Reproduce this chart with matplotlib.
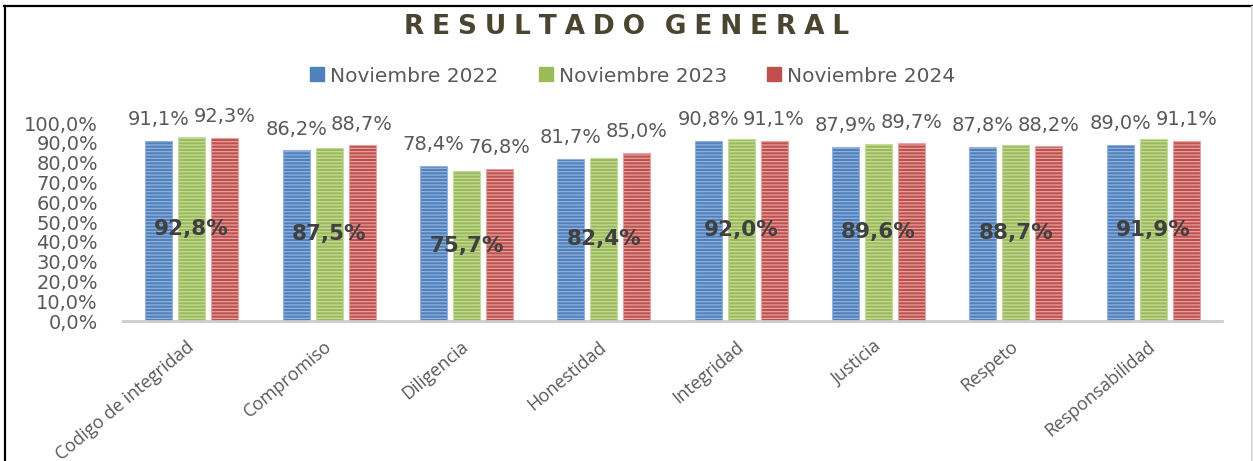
from matplotlib import pyplot as plt
from matplotlib.patches import Patch
from matplotlib.lines import Line2D
from matplotlib.ticker import FuncFormatter, MultipleLocator
import numpy as np

# Datos del grafico (porcentajes)
categorias = ["Codigo de integridad", "Compromiso", "Diligencia", "Honestidad",
              "Integridad", "Justicia", "Respeto", "Responsabilidad"]
series = ["Noviembre 2022", "Noviembre 2023", "Noviembre 2024"]
nov_2022 = [91.1, 86.2, 78.4, 81.7, 90.8, 87.9, 87.8, 89.0]
nov_2023 = [92.8, 87.5, 75.7, 82.4, 92.0, 89.6, 88.7, 91.9]
nov_2024 = [92.3, 88.7, 76.8, 85.0, 91.1, 89.7, 88.2, 91.1]

colores = ["#4f81bd", "#9bbb59", "#c0504d"]
rayas = ["#93b1da", "#c6da9e", "#e2a3a1"]
gris = "#595959"


def pct(v, pos=None):
    return (f"{v:.1f}%").replace(".", ",")


plt.rcParams["hatch.linewidth"] = 0.9

fig = plt.figure(figsize=(12.53, 4.61), dpi=100)
ax = fig.add_axes([123 / 1253, 140 / 461, 1099 / 1253, 198 / 461])

x = np.arange(len(categorias))
ancho = 0.197
paso = 0.24

valores = [nov_2022, nov_2023, nov_2024]
for i, vals in enumerate(valores):
    ax.bar(x + (i - 1) * paso, vals, ancho, color=colores[i], edgecolor=rayas[i],
           linewidth=0.8, hatch="-----", zorder=2)

# Etiquetas: 2022 y 2024 sobre la barra, 2023 en el centro en negrita
for i in (0, 2):
    for xi, v in zip(x, valores[i]):
        ax.annotate(pct(v), (xi + (i - 1) * paso, v), xytext=(0, 8.5),
                    textcoords="offset points", ha="center", va="bottom",
                    fontsize=14, color=gris, annotation_clip=False)
for xi, v in zip(x, nov_2023):
    ax.text(xi, v / 2, pct(v), ha="center", va="center", fontsize=15.5,
            fontweight="bold", color="#404040", zorder=3)

ax.set_xlim(-0.5, len(categorias) - 0.5)
ax.set_ylim(0, 100)
ax.yaxis.set_major_locator(MultipleLocator(10))
ax.yaxis.set_major_formatter(FuncFormatter(pct))
ax.tick_params(axis="y", length=0, pad=18, labelsize=14, labelcolor=gris)

ax.set_xticks(x)
ax.set_xticklabels(categorias, rotation=40, ha="right", va="center",
                   rotation_mode="anchor", fontsize=13, color=gris,
                   family="Open Sans")
ax.tick_params(axis="x", length=0, pad=17)

for s in ["top", "right", "left"]:
    ax.spines[s].set_visible(False)
ax.spines["bottom"].set_color("#cccccc")
ax.spines["bottom"].set_linewidth(2)

# Titulo con letras espaciadas
titulo = "\u2009 \u2009".join("\u2009\u200a".join(p) for p in "RESULTADO GENERAL".split())
fig.text(0.5, 1 - 34 / 461, titulo, ha="center", va="baseline", fontsize=19,
         fontweight="bold", color="#4a4530")

handles = [Patch(facecolor=c, edgecolor=c) for c in colores]
fig.legend(handles, series, loc="center", bbox_to_anchor=(0.505, 1 - 76 / 461),
           ncol=3, frameon=False, fontsize=14.5, labelcolor=gris,
           handlelength=0.7, handleheight=0.7, handletextpad=0.3,
           columnspacing=2.0)

# Marco de la figura
fig.add_artist(Line2D([4 / 1253, 1], [1 - 6 / 461] * 2, color="black", lw=1.6))
fig.add_artist(Line2D([5 / 1253] * 2, [0, 1 - 6 / 461], color="black", lw=1.6))
fig.add_artist(Line2D([1251.5 / 1253] * 2, [0, 1 - 7 / 461], color="#d9d9d9", lw=1.5))

fig.savefig("out.png", dpi=100)
